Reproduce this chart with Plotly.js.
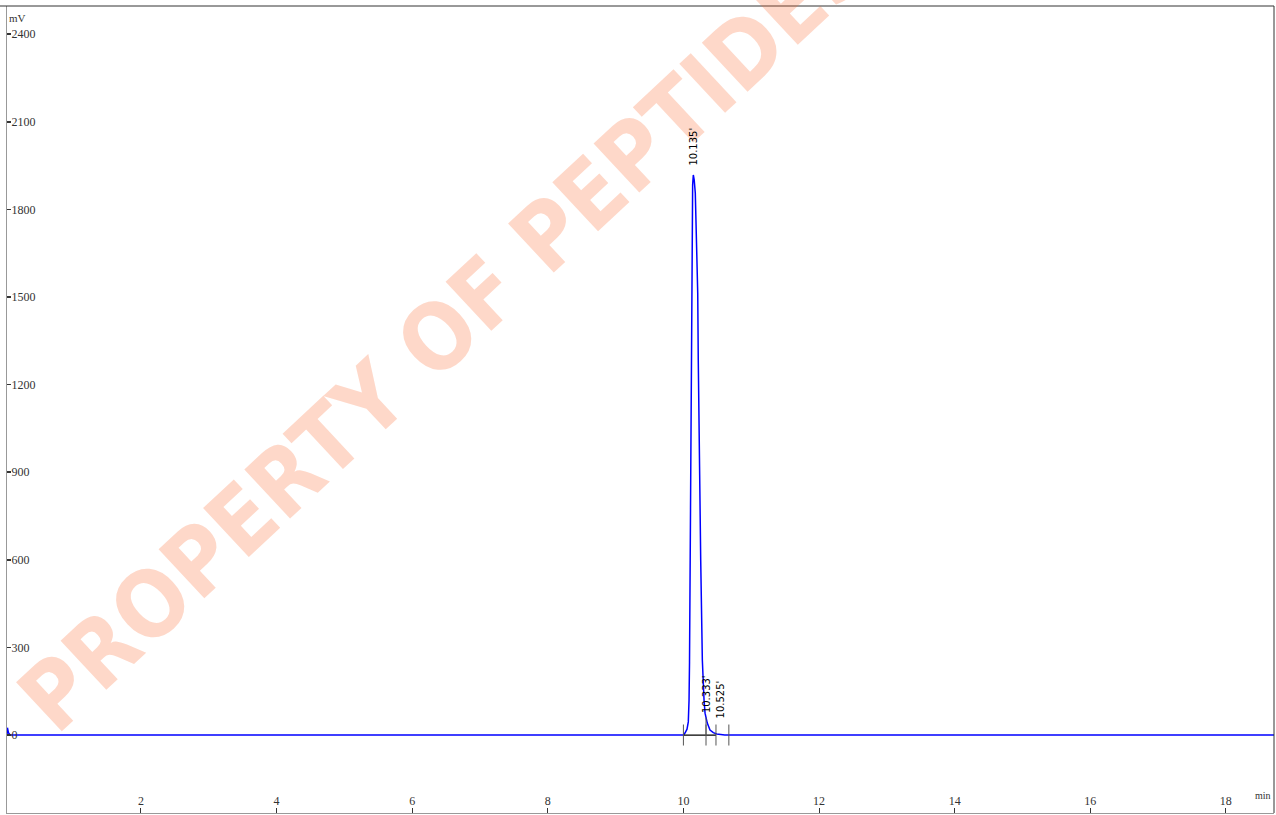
<!DOCTYPE html>
<html>
<head>
<meta charset="utf-8">
<script src="https://cdn.plot.ly/plotly-3.0.1.min.js"></script>
<style>
  html, body { margin: 0; padding: 0; background: #fff; }
  #chart { width: 1276px; height: 815px; }
</style>
</head>
<body>
<div id="chart"></div>
<script>
// Chromatogram signal (time in min, response in mV)
const timeMin = [0.024, 0.03, 0.045, 0.07, 9.98, 10.00, 10.023, 10.053, 10.072, 10.083, 10.090,
  10.100, 10.111, 10.118, 10.125, 10.136, 10.146, 10.159, 10.175, 10.200, 10.211, 10.219,
  10.234, 10.255, 10.279, 10.289, 10.304, 10.319, 10.333, 10.352, 10.392, 10.441, 10.491,
  10.54, 10.61, 18.71];
const signalMv = [0, 25, 8, 0, 0, 0, 6.8, 20, 45, 120, 250,
  600, 1147, 1558, 1798, 1884, 1918, 1901, 1856, 1671, 1514, 1284,
  942, 599, 257, 188, 120, 75, 55, 41, 17, 8, 3.4,
  1.7, 0, 0];

// Integration marks
const integrationTimes = [10.00, 10.333, 10.48, 10.67];
const baselineStart = 10.00;
const baselineEnd = 10.48;
const dropTime = 10.333;
const dropMv = 60;

// Peak labels
const peakLabels = ["10.135'", "10.333'", "10.525'"];
const peakLabelTimes = [10.15, 10.35, 10.54];
const peakLabelMv = [1918, 55, 2];
const peakLabelShift = [7, 4, 14];

// Axis ticks
const yTickVals = [0, 300, 600, 900, 1200, 1500, 1800, 2100, 2400];
const yTickText = ["0", "300", "600", "900", "1200", "1500", "1800", "2100", "2400"];
const xTickVals = [2, 4, 6, 8, 10, 12, 14, 16, 18];
const xTickText = ["2", "4", "6", "8", "10", "12", "14", "16", "18"];

const watermarkText = "PROPERTY OF PEPTIDES";

const traces = [
  {
    x: timeMin, y: signalMv, type: 'scatter', mode: 'lines',
    line: { color: '#0000ff', width: 1.5 }, hoverinfo: 'skip'
  },
  {
    x: [baselineStart, baselineEnd], y: [0, 0], type: 'scatter', mode: 'lines',
    line: { color: '#000000', width: 1.2 }, hoverinfo: 'skip'
  },
  {
    x: [dropTime, dropTime], y: [0, dropMv], type: 'scatter', mode: 'lines',
    line: { color: '#555555', width: 1 }, hoverinfo: 'skip'
  },
  {
    x: integrationTimes, y: integrationTimes.map(() => 0), type: 'scatter', mode: 'markers',
    marker: { symbol: 'line-ns', size: 15, line: { color: '#555555', width: 1 } }, hoverinfo: 'skip'
  }
];

const annotations = peakLabels.map((t, i) => ({
  x: peakLabelTimes[i], y: peakLabelMv[i], xref: 'x', yref: 'y',
  text: t, showarrow: false, textangle: -90,
  xanchor: 'center', yanchor: 'bottom', yshift: peakLabelShift[i],
  font: { family: 'DejaVu Sans', size: 10, color: '#000' }
}));

annotations.unshift({
  xref: 'paper', yref: 'paper', x: 0.346, y: 0.598,
  xanchor: 'center', yanchor: 'middle',
  text: watermarkText, showarrow: false, textangle: -43,
  font: { family: "'DejaVu Sans Condensed', 'Roboto Condensed', Roboto, sans-serif", size: 92, color: 'rgba(250,100,40,0.25)', weight: 'bold' }
});

annotations.push({
  xref: 'paper', yref: 'paper', x: 0.0, y: 1, xanchor: 'left', yanchor: 'top', yshift: -4,
  text: 'mV', showarrow: false, font: { family: 'Liberation Serif', size: 11, color: '#333' }
});
annotations.push({
  xref: 'paper', yref: 'paper', x: 0.999, y: 0, xanchor: 'right', yanchor: 'bottom', yshift: 10,
  text: 'min', showarrow: false, font: { family: 'Liberation Serif', size: 10, color: '#333' }
});

const layout = {
  width: 1276, height: 815,
  margin: { l: 7, r: 2, t: 6, b: 2, pad: 0 },
  paper_bgcolor: '#ffffff', plot_bgcolor: '#ffffff',
  showlegend: false,
  font: { family: 'Liberation Serif', size: 12, color: '#333' },
  xaxis: {
    range: [0.024, 18.71], showgrid: false, zeroline: false,
    showline: true, linecolor: '#999', linewidth: 1,
    ticks: 'inside', ticklen: 5, tickcolor: '#333', tickwidth: 1,
    ticklabelposition: 'inside',
    tickvals: xTickVals, ticktext: xTickText,
    tickfont: { family: 'Liberation Serif', size: 12, color: '#333' }
  },
  yaxis: {
    range: [-267, 2496.6], showgrid: false, zeroline: false,
    showline: true, linecolor: '#999', linewidth: 1,
    ticks: 'inside', ticklen: 4, tickcolor: '#333', tickwidth: 1.5,
    ticklabelposition: 'inside',
    tickvals: yTickVals, ticktext: yTickText,
    tickfont: { family: 'Liberation Serif', size: 12, color: '#333' }
  },
  shapes: [
    { type: 'line', xref: 'paper', yref: 'paper', x0: -0.006, x1: 1, y0: 1, y1: 1, line: { color: '#333', width: 1 } },
    { type: 'line', xref: 'paper', yref: 'paper', x0: 1, x1: 1, y0: 0, y1: 1, line: { color: '#333', width: 1 } }
  ],
  annotations: annotations
};

Plotly.newPlot('chart', traces, layout, { displayModeBar: false, staticPlot: true });
</script>
</body>
</html>
